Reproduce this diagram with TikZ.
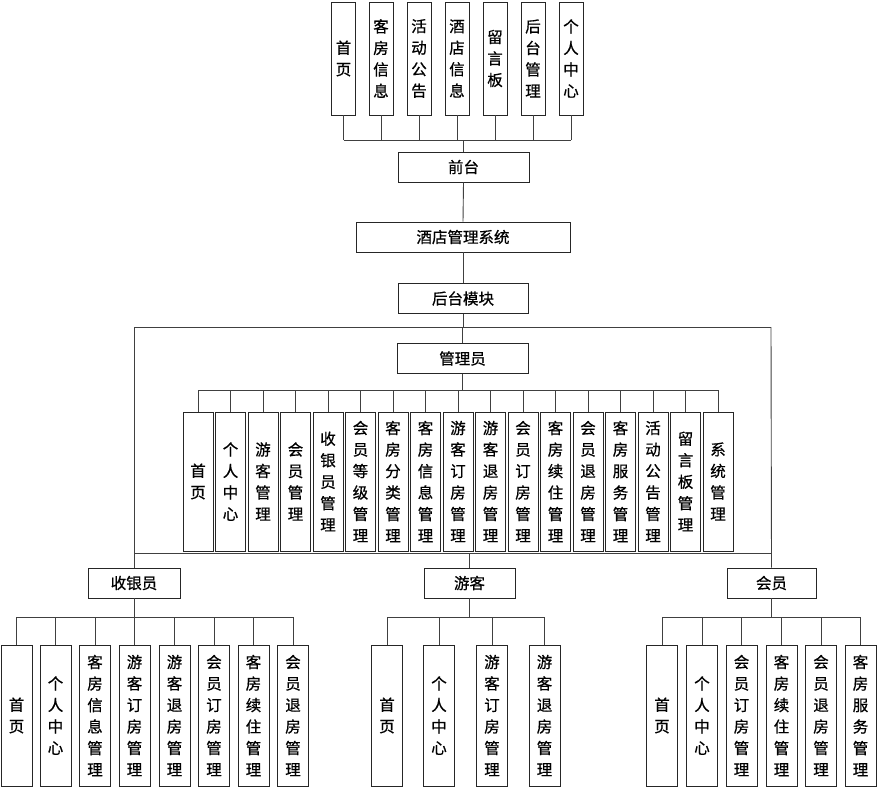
\documentclass[tikz,border=0pt]{standalone}
\usepackage{fontspec}
\newfontfamily\cjk[FakeBold=0.7]{Noto Sans CJK SC}
\begin{document}
\begin{tikzpicture}[x=1pt,y=-1pt,
  every node/.style={font=\cjk\fontsize{15.5}{21.5}\selectfont},
  box/.style={draw=black!85, line width=0.9pt, fill=white, inner sep=0pt, align=center},
  hbox/.style={box, minimum height=30pt},
  topbox/.style={box, minimum width=24pt, minimum height=113pt},
  admbox/.style={box, minimum width=30pt, minimum height=139pt},
  botbox/.style={box, minimum width=31pt, minimum height=141pt},
  ln/.style={draw=black!75, line width=0.9pt}]
\useasboundingbox (0,0) rectangle (878,788);

% ---- front-end leaves
\foreach \x/\t/\n in {343.5/{首\\页}/t1, 381/{客\\房\\信\\息}/t2, 419/{活\\动\\公\\告}/t3,
  457/{酒\\店\\信\\息}/t4, 495/{留\\言\\板}/t5, 533/{后\\台\\管\\理}/t6, 571/{个\\人\\中\\心}/t7}
  \node[topbox] (\n) at (\x,58.5) {\t};

\node[hbox, minimum width=131pt] (qt) at (463.5,167) {前台};
\node[hbox, minimum width=214pt] (sys) at (463,237) {酒店管理系统};
\node[hbox, minimum width=130pt] (back) at (463,298.5) {后台模块};
\node[hbox, minimum width=131pt] (adm) at (462.5,358.5) {管理员};
\node[hbox, minimum width=92pt] (cash) at (134,583) {收银员};
\node[hbox, minimum width=91pt] (tour) at (469.5,583) {游客};
\node[hbox, minimum width=89pt] (mem) at (771.5,583) {会员};

% ---- admin leaves
\foreach \t [count=\i from 0] in {{首\\页},{个\\人\\中\\心},{游\\客\\管\\理},{会\\员\\管\\理},{收\\银\\员\\管\\理},
  {会\\员\\等\\级\\管\\理},{客\\房\\分\\类\\管\\理},{客\\房\\信\\息\\管\\理},{游\\客\\订\\房\\管\\理},
  {游\\客\\退\\房\\管\\理},{会\\员\\订\\房\\管\\理},{客\\房\\续\\住\\管\\理},{会\\员\\退\\房\\管\\理},
  {客\\房\\服\\务\\管\\理},{活\\动\\公\\告\\管\\理},{留\\言\\板\\管\\理},{系\\统\\管\\理}}
  \node[admbox] (a\i) at ({198+32.5*\i},481.5) {\t};

% ---- cashier leaves
\foreach \x/\t/\n in {16.5/{首\\页}/c1, 55.5/{个\\人\\中\\心}/c2, 95/{客\\房\\信\\息\\管\\理}/c3,
  134.5/{游\\客\\订\\房\\管\\理}/c4, 174.5/{游\\客\\退\\房\\管\\理}/c5, 214/{会\\员\\订\\房\\管\\理}/c6,
  253.5/{客\\房\\续\\住\\管\\理}/c7, 293/{会\\员\\退\\房\\管\\理}/c8}
  \node[botbox] (\n) at (\x,715.5) {\t};

% ---- tourist leaves
\foreach \x/\t/\n in {387/{首\\页}/g1, 439/{个\\人\\中\\心}/g2, 492/{游\\客\\订\\房\\管\\理}/g3,
  544.5/{游\\客\\退\\房\\管\\理}/g4}
  \node[botbox] (\n) at (\x,715.5) {\t};

% ---- member leaves
\foreach \x/\t/\n in {662/{首\\页}/m1, 702/{个\\人\\中\\心}/m2, 741.5/{会\\员\\订\\房\\管\\理}/m3,
  781.5/{客\\房\\续\\住\\管\\理}/m4, 821/{会\\员\\退\\房\\管\\理}/m5, 860.5/{客\\房\\服\\务\\管\\理}/m6}
  \node[botbox] (\n) at (\x,715.5) {\t};

% ---- bus coordinates
\coordinate (busT) at (463.5,140);
\coordinate (busA) at (462.5,390);
\coordinate (topL) at (134,327);
\coordinate (topR) at (771,327);
\coordinate (botL) at (134,553);
\coordinate (botR) at (771,553);
\coordinate (busC) at (134,617);
\coordinate (busG) at (469.5,617);
\coordinate (busM) at (771.5,617);

% ---- front-end connectors
\foreach \n in {t1,t2,t3,t4,t5,t6,t7} \draw[ln] (\n.south) -- (\n.south |- busT);
\draw[ln] (t1.south |- busT) -- (t7.south |- busT);
\draw[ln] (busT) -- (qt.north);
\draw[ln] (qt.south) -- (sys.north);
\draw[ln] (sys.south) -- (back.north);

% ---- back-end frame
\draw[ln] (back.south) -- (back.south |- topL);
\draw[ln] (topL) -- (topR);
\draw[ln] (adm.north |- topL) -- (adm.north);
\draw[ln] (topL) -- (cash.north);
\draw[ln] (topR) -- (mem.north);
\draw[ln] (botL) -- (botR);
\draw[ln] (tour.north |- botL) -- (tour.north);

% ---- admin connectors
\draw[ln] (adm.south) -- (busA);
\draw[ln] (a0.north |- busA) -- (a16.north |- busA);
\foreach \i in {0,...,16} \draw[ln] (a\i.north) -- (a\i.north |- busA);

% ---- cashier connectors
\draw[ln] (cash.south) -- (busC);
\draw[ln] (c1.north |- busC) -- (c8.north |- busC);
\foreach \n in {c1,c2,c3,c4,c5,c6,c7,c8} \draw[ln] (\n.north) -- (\n.north |- busC);

% ---- tourist connectors
\draw[ln] (tour.south) -- (busG);
\draw[ln] (g1.north |- busG) -- (g4.north |- busG);
\foreach \n in {g1,g2,g3,g4} \draw[ln] (\n.north) -- (\n.north |- busG);

% ---- member connectors
\draw[ln] (mem.south) -- (busM);
\draw[ln] (m1.north |- busM) -- (m6.north |- busM);
\foreach \n in {m1,m2,m3,m4,m5,m6} \draw[ln] (\n.north) -- (\n.north |- busM);
\end{tikzpicture}
\end{document}
